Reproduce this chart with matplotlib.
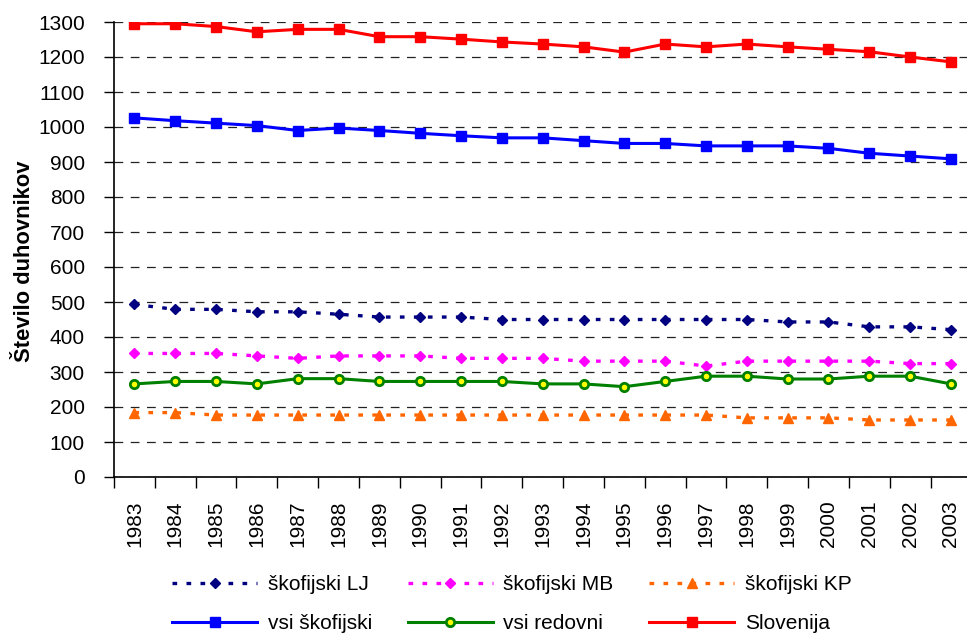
import numpy as np
import matplotlib
matplotlib.use("Agg")
import matplotlib.pyplot as plt

plt.rcParams['font.family'] = ['Liberation Sans', 'DejaVu Sans']

years = [str(y) for y in range(1983, 2004)]

skof_lj = [493, 479, 479, 472, 472, 465, 457, 457, 457, 450, 450,
           450, 450, 450, 450, 450, 443, 443, 429, 429, 421]
skof_mb = [353, 353, 353, 346, 339, 346, 346, 346, 339, 339, 339,
           331, 331, 331, 317, 331, 331, 331, 331, 324, 324]
skof_kp = [184, 184, 177, 177, 177, 177, 177, 177, 177, 177, 177,
           177, 177, 177, 177, 169, 169, 169, 163, 163, 163]
vsi_skof = [1026, 1018, 1011, 1004, 990, 997, 990, 982, 975, 969, 969,
            961, 953, 953, 946, 946, 946, 939, 925, 917, 909]
vsi_redovni = [266, 273, 273, 266, 281, 281, 273, 273, 273, 273, 266,
               266, 258, 273, 288, 288, 280, 280, 288, 288, 266]
slovenija = [1295, 1295, 1287, 1272, 1279, 1279, 1258, 1258, 1251, 1243, 1237,
             1229, 1214, 1237, 1229, 1237, 1229, 1222, 1215, 1200, 1186]

fig = plt.figure(figsize=(9.67, 6.38), dpi=100)
ax = fig.add_axes([114/967, 1 - 477/638, 857.4/967, 455/638])

x = np.arange(len(years))
dot = (0, (1.4, 2.8))

ax.plot(x, skof_lj, color="#000080", lw=2.4, ls=dot, marker="D", ms=5.5,
        label="škofijski LJ")
ax.plot(x, vsi_skof, color="#0000FF", lw=2.2, marker="s", ms=6.5,
        label="vsi škofijski")
ax.plot(x, skof_mb, color="#FF00FF", lw=2.4, ls=dot, marker="D", ms=5.5,
        label="škofijski MB")
ax.plot(x, vsi_redovni, color="#008000", lw=2.2, marker="o", ms=6,
        mfc="#FFFF00", mec="#008000", mew=2, label="vsi redovni")
ax.plot(x, skof_kp, color="#FF6600", lw=2.4, ls=dot, marker="^", ms=6.5,
        label="škofijski KP")
ax.plot(x, slovenija, color="#FF0000", lw=2.2, marker="s", ms=6.5,
        label="Slovenija")

ax.set_xlim(-0.5, len(years) - 0.5)
ax.set_ylim(0, 1300)
ax.set_yticks(np.arange(0, 1301, 100))
ax.yaxis.grid(True, color="#222222", lw=0.9, ls=(0, (7, 6)))
ax.set_axisbelow(True)

ax.set_xticks(x)
ax.set_xticklabels(years, rotation=90, fontsize=15)
ax.set_xticks(np.arange(-0.5, len(years), 1), minor=True)
ax.tick_params(axis="x", which="major", length=0, pad=17)
ax.tick_params(axis="x", which="minor", length=8, width=1, color="black")
ax.tick_params(axis="y", length=7, width=1, pad=14, labelsize=15)

for s in ["top", "right"]:
    ax.spines[s].set_visible(False)
ax.spines["left"].set_linewidth(1.2)
ax.spines["bottom"].set_linewidth(1.2)

fig.text(25/967, 1 - 261.5/638, "Število duhovnikov", rotation=90,
         ha="center", va="center", fontsize=15.8, fontweight="bold")

fig.legend(loc="upper left", bbox_to_anchor=(172/967, 1 - 575/638),
           ncol=3, frameon=False, fontsize=15, handlelength=4.1,
           handletextpad=0.5, columnspacing=1.7, labelspacing=0.95,
           borderpad=0, borderaxespad=0, numpoints=1)

fig.savefig("out.png", dpi=100)
